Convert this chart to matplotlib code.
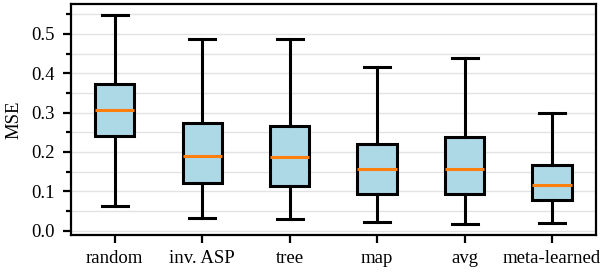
import matplotlib
matplotlib.use("Agg")
import matplotlib.pyplot as plt
from matplotlib.ticker import MultipleLocator

plt.rcParams['font.family'] = ['Liberation Serif', 'DejaVu Serif']

labels = ["random", "inv. ASP", "tree", "map", "avg", "meta-learned"]
whislo = [0.062, 0.031, 0.029, 0.021, 0.016, 0.019]
q1 = [0.240, 0.120, 0.114, 0.092, 0.093, 0.078]
med = [0.306, 0.191, 0.187, 0.156, 0.157, 0.115]
q3 = [0.372, 0.273, 0.266, 0.221, 0.237, 0.168]
whishi = [0.549, 0.487, 0.487, 0.415, 0.439, 0.298]

stats = []
for i, lab in enumerate(labels):
    stats.append(dict(label=lab, whislo=whislo[i], q1=q1[i], med=med[i],
                      q3=q3[i], whishi=whishi[i], fliers=[]))

fig = plt.figure(figsize=(6.04, 2.72), dpi=100)
ax = fig.add_axes([0.1175, 0.136, 0.869, 0.849])

ax.bxp(stats, widths=0.45, capwidths=0.3, patch_artist=True,
       boxprops=dict(facecolor='lightblue', edgecolor='black', linewidth=2.2),
       whiskerprops=dict(color='black', linewidth=2.2),
       capprops=dict(color='black', linewidth=2.2),
       medianprops=dict(color='#ff7f0e', linewidth=2.2))

ax.set_xlim(0.5, 6.5)
ax.set_ylim(-0.011, 0.576)
ax.yaxis.set_major_locator(MultipleLocator(0.1))
ax.yaxis.set_minor_locator(MultipleLocator(0.05))
ax.yaxis.grid(True, which='both', color='#e3e3e3', linewidth=1.0)
ax.set_axisbelow(True)

ax.set_ylabel("MSE", fontsize=13.5, labelpad=6)
ax.tick_params(axis='both', which='major', labelsize=13.5, length=6, width=1.6)
ax.tick_params(axis='y', which='major', pad=6)
ax.tick_params(axis='x', which='major', pad=5)
ax.tick_params(axis='y', which='minor', length=3.5, width=1.6)
for s in ax.spines.values():
    s.set_linewidth(1.6)

fig.savefig("out.png", dpi=100)
